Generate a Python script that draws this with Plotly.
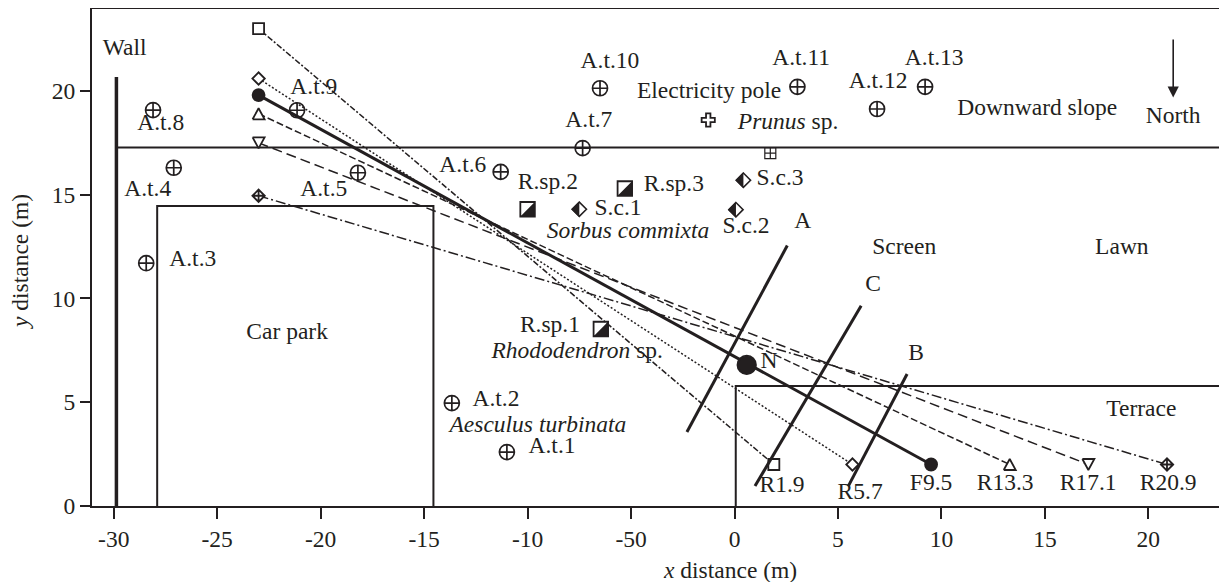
import plotly.graph_objects as go

INK = "#231f20"
FONT = "Liberation Serif"
TEXT_SIZE = 23.5

X_TICKS = [-30, -25, -20, -15, -10, -5, 0, 5, 10, 15, 20]
X_TICK_TEXT = ["-30", "-25", "-20", "-15", "-10", "-50", "0", "5", "10", "15", "20"]
Y_TICKS = [0, 5, 10, 15, 20]

# Transects: (left x, left y), (right x, right y)
TRANSECT_NAMES = ["R1.9", "R5.7", "F9.5", "R13.3", "R17.1", "R20.9"]
TRANSECT_LEFT_X = [-23, -23, -23, -23, -23, -23]
TRANSECT_LEFT_Y = [23.0, 20.6, 19.8, 18.9, 17.5, 14.95]
TRANSECT_RIGHT_X = [1.9, 5.7, 9.5, 13.3, 17.1, 20.9]
TRANSECT_RIGHT_Y = [2, 2, 2, 2, 2, 2]
TRANSECT_SYMBOL = ["square", "diamond", "circle", None, None, "diamond-cross"]
TRANSECT_FILL = ["white", "white", INK, None, None, "white"]
TRANSECT_MSIZE = [11, 9.5, 12, 0, 0, 9.5]
TRANSECT_TRIANGLE = [0, 0, 0, 1, -1, 0]
TRANSECT_DASH = ["6px,2px,2px,2px", "2px,2px", "solid", "7px,3px", "10px,5px", "10px,3px,2px,3px"]
TRANSECT_WIDTH = [1.5, 1.5, 3, 1.5, 1.5, 1.5]

# Aesculus turbinata trees A.t.1 .. A.t.13
AT_X = [-11.0, -13.66, -28.43, -27.1, -18.2, -11.3, -7.34, -28.1, -21.14, -6.5, 3.04, 6.89, 9.21]
AT_Y = [2.6, 4.96, 11.7, 16.3, 16.06, 16.1, 17.25, 19.08, 19.07, 20.13, 20.2, 19.13, 20.2]

# Half-filled species
RSP_X = [-6.46, -10.0, -5.3]
RSP_Y = [8.53, 14.3, 15.3]
SC_X = [-7.5, 0.07, 0.43]
SC_Y = [14.3, 14.28, 15.7]

POLE_X, POLE_Y = [-1.27], [18.6]
PRUNUS_X, PRUNUS_Y = [1.73], [17.0]
NEST_X, NEST_Y = [0.59], [6.8]

WALL_X, WALL_Y = [-29.87, -29.87], [0, 20.67]
CARPARK_X, CARPARK_Y = [-27.9, -27.9, -14.55, -14.55], [0, 14.46, 14.46, 0]
TERRACE_X, TERRACE_Y = [0.06, 0.06, 23.8], [0, 5.78, 5.78]
SLOPE_X, SLOPE_Y = [-29.87, 23.8], [17.27, 17.27]
SCREEN_A_X, SCREEN_A_Y = [-2.3, 2.55], [3.57, 12.55]
SCREEN_B_X, SCREEN_B_Y = [5.5, 8.34], [0.96, 6.36]
SCREEN_C_X, SCREEN_C_Y = [0.99, 6.12], [0.96, 9.65]

LABELS = [
    "A.t.1", "A.t.2", "A.t.3", "A.t.4", "A.t.5", "A.t.6", "A.t.7", "A.t.8", "A.t.9",
    "A.t.10", "A.t.11", "A.t.12", "A.t.13", "Wall", "Electricity pole", "<i>Prunus</i> sp.",
    "S.c.3", "S.c.2", "S.c.1", "R.sp.2", "R.sp.3", "R.sp.1", "<i>Rhododendron</i> sp.",
    "<i>Aesculus turbinata</i>", "<i>Sorbus commixta</i>", "Downward slope", "North",
    "Screen", "Lawn", "Terrace", "Car park", "A", "C", "B", "N",
    "R1.9", "R5.7", "F9.5", "R13.3", "R17.1", "R20.9",
]
LABEL_X = [
    -8.82, -11.53, -26.18, -28.36, -19.85, -13.13, -7.04, -27.73, -20.33,
    -6.02, 3.22, 6.94, 9.65, -29.47, -1.23, 2.59,
    2.2, 0.56, -5.63, -9.02, -2.93, -8.92, -7.6,
    -9.5, -5.15, 14.63, 21.2,
    8.2, 18.72, 19.66, -21.62, 3.3, 6.7, 8.78, 1.67,
    2.3, 6.07, 9.5, 13.08, 17.09, 20.96,
]
LABEL_Y = [
    2.85, 5.08, 11.86, 15.23, 15.23, 16.39, 18.55, 18.41, 20.14,
    21.4, 21.54, 20.43, 21.54, 22.02, 19.95, 18.46,
    15.76, 13.45, 14.31, 15.57, 15.47, 8.67, 7.42,
    3.86, 13.2, 19.13, 18.75,
    12.43, 12.43, 4.63, 8.34, 13.69, 10.65, 7.33, 6.94,
    0.96, 0.63, 1.06, 1.06, 1.06, 1.06,
]

NORTH_X = 21.2
NORTH_TAIL_Y = 22.55
NORTH_TIP_Y = 19.68

# half-widths of the hand-built glyphs, in axis units
SQUARE_HALF = 0.36
DIAMOND_HALF = 0.39
TRI_HALF_W = 0.29
TRI_HALF_H = 0.265

fig = go.Figure()


def line(xs, ys, width=2, dash="solid"):
    fig.add_trace(go.Scatter(x=xs, y=ys, mode="lines", line=dict(color=INK, width=width, dash=dash),
                             showlegend=False, hoverinfo="skip", cliponaxis=False))


def marks(xs, ys, symbol, size, lw=1.8, fill=INK):
    edge = INK
    fig.add_trace(go.Scatter(x=xs, y=ys, mode="markers", showlegend=False, hoverinfo="skip", cliponaxis=False,
                             marker=dict(symbol=symbol, size=size, color=fill,
                                         line=dict(color=edge, width=lw))))


def fills(px, py, fill=INK, lw=0):
    fig.add_trace(go.Scatter(x=px, y=py, mode="lines", fill="toself", fillcolor=fill,
                             line=dict(width=lw, color=INK),
                             showlegend=False, hoverinfo="skip", cliponaxis=False))


line(CARPARK_X, CARPARK_Y)
line(TERRACE_X, TERRACE_Y)
line(SLOPE_X, SLOPE_Y)
line(WALL_X, WALL_Y, width=3.5)

for i, name in enumerate(TRANSECT_NAMES):
    xs = [TRANSECT_LEFT_X[i], TRANSECT_RIGHT_X[i]]
    ys = [TRANSECT_LEFT_Y[i], TRANSECT_RIGHT_Y[i]]
    line(xs, ys, width=TRANSECT_WIDTH[i], dash=TRANSECT_DASH[i])
    direction = TRANSECT_TRIANGLE[i]
    if direction:
        tx, ty = [], []
        for cx, cy in zip(xs, ys):
            tx += [cx - TRI_HALF_W, cx + TRI_HALF_W, cx, cx - TRI_HALF_W, None]
            ty += [cy - direction * TRI_HALF_H, cy - direction * TRI_HALF_H, cy + direction * TRI_HALF_H,
                   cy - direction * TRI_HALF_H, None]
        fills(tx, ty, fill="white", lw=1.8)
    else:
        marks(xs, ys, TRANSECT_SYMBOL[i], TRANSECT_MSIZE[i], fill=TRANSECT_FILL[i])

line(SCREEN_A_X, SCREEN_A_Y, width=3)
line(SCREEN_B_X, SCREEN_B_Y, width=3)
line(SCREEN_C_X, SCREEN_C_Y, width=3)

marks(AT_X, AT_Y, "circle-cross-open", 15, lw=1.7)
marks(POLE_X, POLE_Y, "cross-open", 11)
marks(PRUNUS_X, PRUNUS_Y, "square-cross-open", 11, lw=1.2)
marks(NEST_X, NEST_Y, "circle", 18.5)

# Half-filled squares: lower-right half black
sq_x, sq_y = [], []
for cx, cy in zip(RSP_X, RSP_Y):
    h = SQUARE_HALF
    sq_x += [cx - h, cx + h, cx + h, cx - h, None]
    sq_y += [cy - h, cy - h, cy + h, cy - h, None]
fills(sq_x, sq_y)
marks(RSP_X, RSP_Y, "square-open", 14.5)

# Half-filled diamonds: left half black
di_x, di_y = [], []
for cx, cy in zip(SC_X, SC_Y):
    h = DIAMOND_HALF
    di_x += [cx, cx - h, cx, cx, None]
    di_y += [cy + h, cy, cy - h, cy + h, None]
fills(di_x, di_y)
marks(SC_X, SC_Y, "diamond-open", 11, lw=1.6)

fig.add_trace(go.Scatter(x=LABEL_X, y=LABEL_Y, mode="text", text=LABELS, textposition="middle center",
                         textfont=dict(family=FONT, size=TEXT_SIZE, color=INK), showlegend=False,
                         hoverinfo="skip", cliponaxis=False))

fig.add_annotation(x=NORTH_X, y=NORTH_TIP_Y, ax=NORTH_X, ay=NORTH_TAIL_Y, xref="x", yref="y", axref="x", ayref="y",
                   text="", showarrow=True, arrowhead=2, arrowsize=1.4, arrowwidth=1.6, arrowcolor=INK)
fig.add_annotation(x=0.562, y=-0.1288, xref="paper", yref="paper", xanchor="center", yanchor="middle",
                   text="<i>x</i> distance (m)", showarrow=False, font=dict(family=FONT, size=TEXT_SIZE, color=INK))
fig.add_annotation(xref="paper", yref="paper", x=-0.0634, y=0.491, textangle=-90, xanchor="center", yanchor="middle",
                   text="<i>y</i> distance (m)", showarrow=False, font=dict(family=FONT, size=TEXT_SIZE, color=INK))

fig.update_layout(
    width=1219, height=574, margin=dict(l=84, r=0, t=1, b=76, pad=0),
    paper_bgcolor="white", plot_bgcolor="white", showlegend=False,
    font=dict(family=FONT, size=TEXT_SIZE, color=INK),
    xaxis=dict(range=[-31.05, 23.8], tickmode="array", tickvals=X_TICKS, ticktext=X_TICK_TEXT, ticks="outside",
               ticklen=11, tickwidth=2, tickcolor=INK, showgrid=False, zeroline=False, showline=True,
               linecolor=INK, linewidth=2, mirror=True, tickfont=dict(family=FONT, size=TEXT_SIZE, color=INK)),
    yaxis=dict(range=[0, 23.95], tickmode="array", tickvals=Y_TICKS, ticks="outside",
               ticklen=10, tickwidth=2, tickcolor=INK, showgrid=False, zeroline=False, showline=True,
               linecolor=INK, linewidth=2, tickfont=dict(family=FONT, size=TEXT_SIZE, color=INK)),
)
fig.write_html("out.html")
